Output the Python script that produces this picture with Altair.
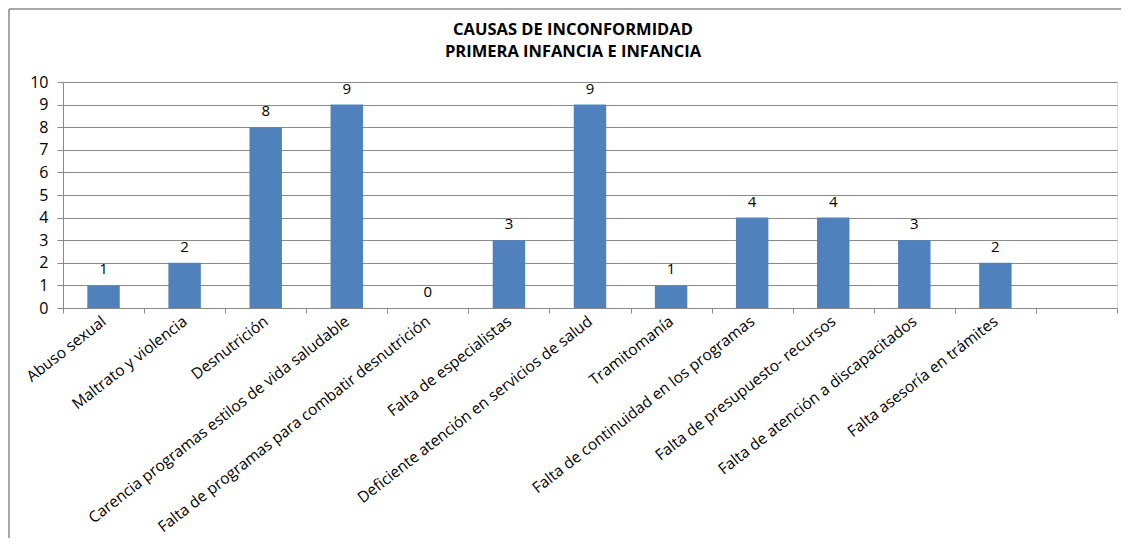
import altair as alt
import pandas as pd

categories = [
    "Abuso sexual",
    "Maltrato y violencia",
    "Desnutrición",
    "Carencia programas estilos de vida saludable",
    "Falta de programas para combatir desnutrición",
    "Falta de especialistas",
    "Deficiente atención en servicios de salud",
    "Tramitomanía",
    "Falta  de continuidad en los programas",
    "Falta de presupuesto- recursos",
    "Falta de atención a discapacitados",
    "Falta asesoría en trámites",
    " ",
]
values = [1, 2, 8, 9, 0, 3, 9, 1, 4, 4, 3, 2, None]
y_ticks = [0, 1, 2, 3, 4, 5, 6, 7, 8, 9, 10]
title_line1 = "CAUSAS DE INCONFORMIDAD"
title_line2 = "PRIMERA INFANCIA E INFANCIA"

df = pd.DataFrame({"causa": categories, "valor": values})
df_t1 = pd.DataFrame({"t": [title_line1]})
df_t2 = pd.DataFrame({"t": [title_line2]})
df_one = pd.DataFrame({"k": [0]})

FONT = "Open Sans"
GRAY = "#8a8a8a"

x_axis = alt.Axis(
    title=None,
    labelAngle=-38,
    labelAlign="right",
    labelBaseline="middle",
    labelPadding=6,
    labelFont=FONT,
    labelFontSize=15.5,
    labelColor="#000000",
    labelLimit=0,
    labelOverlap=False,
    tickBand="extent",
    tickSize=5,
    tickColor=GRAY,
    domainColor=GRAY,
    grid=False,
)
y_axis = alt.Axis(
    title=None,
    values=y_ticks,
    labelFont=FONT,
    labelFontSize=16,
    labelColor="#000000",
    labelPadding=9,
    labelOverlap=False,
    tickSize=6,
    tickColor=GRAY,
    domainColor=GRAY,
    gridColor=GRAY,
    gridWidth=1,
)
x_scale = alt.Scale(domain=categories, paddingInner=0, paddingOuter=0)
y_scale = alt.Scale(domain=[0, 10], nice=False)

bars = alt.Chart(df).mark_bar(
    color="#4F81BD", width=alt.RelativeBandSize(0.4)
).encode(
    x=alt.X("causa:N", sort=categories, scale=x_scale, axis=x_axis),
    y=alt.Y("valor:Q", scale=y_scale, axis=y_axis),
)

labels = alt.Chart(df).mark_text(
    dy=-16, font=FONT, fontSize=15, color="#000000", baseline="middle"
).encode(
    x=alt.X("causa:N", sort=categories, scale=x_scale, axis=x_axis),
    y=alt.Y("valor:Q", scale=y_scale, axis=y_axis),
    text=alt.Text("valor:Q", format="d"),
)

frame_top = alt.Chart(df_one).mark_rule(color=GRAY, strokeWidth=1.5).encode(
    x=alt.value(-54), x2=alt.value(1070), y=alt.value(-73)
)
frame_left = alt.Chart(df_one).mark_rule(color=GRAY, strokeWidth=1.5).encode(
    x=alt.value(-54), y=alt.value(-73), y2=alt.value(500)
)

title_style = dict(
    font=FONT,
    fontSize=16.5,
    fontWeight="bold",
    color="#000000",
    align="center",
    baseline="middle",
)
title1 = alt.Chart(df_t1).mark_text(**title_style).encode(
    text="t:N", x=alt.value(510), y=alt.value(-52)
)
title2 = alt.Chart(df_t2).mark_text(**title_style).encode(
    text="t:N", x=alt.value(510), y=alt.value(-30)
)

chart = (
    alt.layer(frame_top, frame_left, bars, labels, title1, title2)
    .properties(
        width=1054,
        height=226,
        padding={"left": 55, "top": 74, "right": 4, "bottom": 230},
        autosize=alt.AutoSizeParams(type="none"),
    )
    .configure_view(strokeWidth=0)
    .configure(background="#ffffff")
)

chart.save("out.html", embed_options={"renderer": "svg", "actions": False})
